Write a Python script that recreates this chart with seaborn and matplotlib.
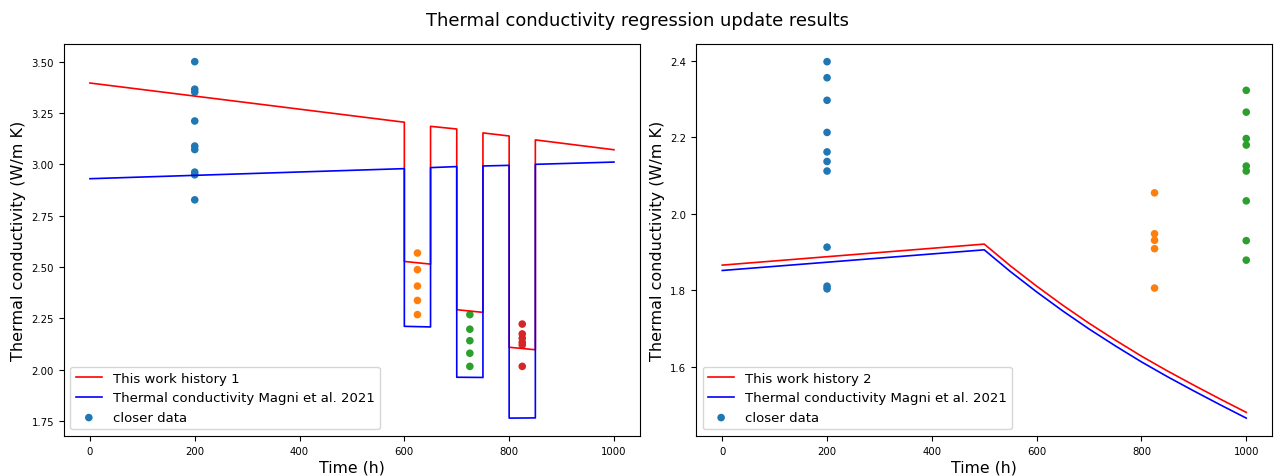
import matplotlib
matplotlib.use("Agg")
import matplotlib.pyplot as plt
import seaborn as sns
import pandas as pd

# ---- History 1: stepped power history (left panel) ----
time_h1 = [0, 600, 600, 650, 650, 700, 700, 750, 750, 800, 800, 850, 850, 1000]
k_this_work_h1 = [3.396, 3.205, 2.527, 2.514, 3.185, 3.172, 2.292, 2.279,
                  3.153, 3.138, 2.109, 2.097, 3.119, 3.071]
k_magni_h1 = [2.930, 2.979, 2.211, 2.208, 2.984, 2.989, 1.963, 1.962,
              2.992, 2.995, 1.764, 1.765, 3.000, 3.011]

data_h1 = {
    200: [3.500, 3.366, 3.352, 3.211, 3.089, 3.072, 2.962, 2.949, 2.827],
    625: [2.568, 2.487, 2.407, 2.337, 2.268],
    725: [2.268, 2.197, 2.141, 2.080, 2.016],
    825: [2.222, 2.174, 2.153, 2.133, 2.120, 2.016],
}

# ---- History 2: ramp then decay (right panel) ----
time_h2 = [0, 500, 550, 600, 650, 700, 750, 800, 850, 900, 950, 1000]
k_this_work_h2 = [1.866, 1.921, 1.864, 1.811, 1.761, 1.714, 1.670, 1.628,
                  1.589, 1.552, 1.516, 1.481]
k_magni_h2 = [1.852, 1.906, 1.849, 1.796, 1.746, 1.699, 1.655, 1.613,
              1.574, 1.537, 1.501, 1.466]

data_h2 = {
    200: [2.398, 2.356, 2.297, 2.213, 2.162, 2.137, 2.112, 1.913, 1.811, 1.804],
    825: [2.055, 1.948, 1.931, 1.909, 1.806],
    1000: [2.323, 2.266, 2.197, 2.180, 2.125, 2.112, 2.034, 1.930, 1.879],
}

point_colors = ["#1f77b4", "#ff7f0e", "#2ca02c", "#d62728"]

fig, axes = plt.subplots(1, 2, figsize=(12.75, 4.77), dpi=100)
fig.subplots_adjust(left=0.050, right=0.998, bottom=0.084, top=0.906, wspace=0.097)


def draw_panel(ax, t, k_work, k_magni, points, history_label):
    lines = pd.DataFrame({"t": t, "work": k_work, "magni": k_magni})
    sns.lineplot(data=lines, x="t", y="work", ax=ax, color="red", lw=1.2,
                 sort=False, estimator=None, label=history_label)
    sns.lineplot(data=lines, x="t", y="magni", ax=ax, color="blue", lw=1.2,
                 sort=False, estimator=None,
                 label="Thermal conductivity Magni et al. 2021")
    for i, (tt, vals) in enumerate(points.items()):
        pts = pd.DataFrame({"t": [tt] * len(vals), "k": vals})
        sns.scatterplot(data=pts, x="t", y="k", ax=ax, color=point_colors[i],
                        s=30, edgecolor="none",
                        label="closer data" if i == 0 else None)
    ax.set_xlabel("Time (h)", fontsize=11.3, labelpad=3)
    ax.set_ylabel("Thermal conductivity (W/m K)", fontsize=11.5)
    ax.tick_params(labelsize=7.3)
    ax.set_xticks([0, 200, 400, 600, 800, 1000])
    ax.legend(loc="lower left", fontsize=9.5)


draw_panel(axes[0], time_h1, k_this_work_h1, k_magni_h1, data_h1, "This work history 1")
draw_panel(axes[1], time_h2, k_this_work_h2, k_magni_h2, data_h2, "This work history 2")
axes[1].set_yticks([1.6, 1.8, 2.0, 2.2, 2.4])

fig.suptitle("Thermal conductivity regression update results", fontsize=12.9,
             y=0.956, va="center")

fig.savefig("out.png", dpi=100)
